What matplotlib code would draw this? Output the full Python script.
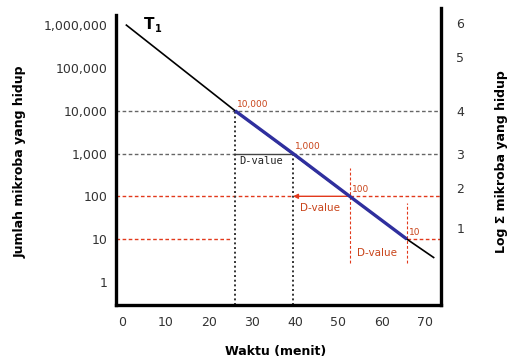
import matplotlib
matplotlib.use("Agg")
import matplotlib.pyplot as plt
import numpy as np

# --- data ---
t1_times = [1, 26.1, 65.8, 72]            # black T1 survival line (menit)
t1_counts = [1e6, 1e4, 10, 10 ** 0.57]    # surviving microbes
d_times = [26.1, 39.5, 52.6, 65.8]        # points one D-value apart
d_counts = [10000, 1000, 100, 10]
d_labels = ["10,000", "1,000", "100", "10"]

x_ticks = [0, 10, 20, 30, 40, 50, 60, 70]
y_ticks = [1, 10, 100, 1000, 10000, 100000, 1000000]
y_ticklabels = ["1", "10", "100", "1,000", "10,000", "100,000", "1,000,000"]
log_tick_pos = [6.05, 5.25, 4.0, 3.0, 2.2, 1.25]   # right axis, as drawn
log_tick_labels = ["6", "5", "4", "3", "2", "1"]

RED = "#e2391c"
RED_TXT = "#c9441a"
BLUE = "#2f2f9e"
GREY = "#666666"

fig = plt.figure(figsize=(5.09, 3.64), dpi=100)
ax = fig.add_axes([116 / 509, 1 - 305 / 364, (441 - 116) / 509, (305 - 8) / 364])

xmin, xmax = -1.4, 73.7
ymin, ymax = 10 ** -0.54, 10 ** 6.40
ax.set_yscale("log")
ax.set_xlim(xmin, xmax)
ax.set_ylim(ymin, ymax)

# spines
ax.spines["top"].set_visible(False)
for s in ["left", "bottom", "right"]:
    ax.spines[s].set_linewidth(2.4)
    ax.spines[s].set_color("black")
ax.spines["left"].set_bounds(ymin, 10 ** 6.23)

ax.set_xticks(x_ticks)
ax.set_xticklabels([str(v) for v in x_ticks])
ax.set_yticks(y_ticks)
ax.set_yticklabels(y_ticklabels)
ax.minorticks_off()
ax.tick_params(axis="both", length=0, labelsize=9, colors="#333333")
ax.tick_params(axis="y", pad=6)
ax.tick_params(axis="x", pad=8)

# right log axis
ax2 = ax.twinx()
ax2.set_ylim(np.log10(ymin), np.log10(ymax))
ax2.set_yticks(log_tick_pos)
ax2.set_yticklabels(log_tick_labels)
ax2.tick_params(axis="y", length=0, labelsize=9, pad=11, colors="#333333")
for s in ax2.spines.values():
    s.set_visible(False)

dash = dict(linestyle=(0, (2.6, 1.8)), linewidth=1.0)
dot = dict(linestyle=(0, (1.0, 1.4)), linewidth=1.4, color="#333333")

# guide lines at 10,000 and 1,000 (grey)
ax.plot([xmin, xmax], [d_counts[0]] * 2, color=GREY, **dash, zorder=1)
ax.plot([xmin, d_times[0]], [d_counts[1]] * 2, color=GREY, **dash, zorder=1)
ax.plot([d_times[1], xmax], [d_counts[1]] * 2, color=GREY, **dash, zorder=1)
ax.plot([d_times[0], d_times[1]], [d_counts[1]] * 2, color="#444444", lw=1.0, zorder=1)

# guide lines at 100 and 10 (red)
ax.plot([xmin, d_times[1]], [d_counts[2]] * 2, color=RED, **dash, zorder=1)
ax.plot([d_times[2], xmax], [d_counts[2]] * 2, color=RED, **dash, zorder=1)
ax.annotate("", xy=(d_times[1], d_counts[2]), xytext=(d_times[2], d_counts[2]),
            arrowprops=dict(arrowstyle="-|>", color=RED, lw=1.0,
                            mutation_scale=7, shrinkA=0, shrinkB=0), zorder=1)
ax.plot([xmin, d_times[0] - 0.6], [d_counts[3]] * 2, color=RED, **dash, zorder=1)
ax.plot([d_times[3], xmax], [d_counts[3]] * 2, color=RED, **dash, zorder=1)

# vertical drops
ax.plot([d_times[0]] * 2, [ymin, d_counts[0]], **dot, zorder=1)
ax.plot([d_times[1]] * 2, [ymin, d_counts[1]], **dot, zorder=1)
ax.plot([d_times[2]] * 2, [10 ** 0.44, 10 ** 2.66], color=RED, linestyle=(0, (2.6, 1.8)),
        linewidth=0.8, zorder=1)
ax.plot([d_times[3]] * 2, [10 ** 0.44, 10 ** 1.84], color=RED, linestyle=(0, (2.6, 1.8)),
        linewidth=0.8, zorder=1)

# survival curve
ax.plot(t1_times, t1_counts, color="black", lw=1.2, zorder=3)
ax.plot(d_times, d_counts, color=BLUE, lw=2.4, solid_capstyle="butt", zorder=4)
ax.text(5.0, 10 ** 6.02, "T", fontsize=11, fontweight="bold", ha="left",
        va="center", zorder=5)
ax.text(7.6, 10 ** 5.9, "1", fontsize=7, fontweight="bold", ha="left",
        va="center", zorder=5)

# point labels
for t, c, lab in zip(d_times, d_counts, d_labels):
    ax.text(t + 0.5, c * 1.12, lab, color=RED_TXT, fontsize=6.5, ha="left",
            va="bottom", zorder=5)

# D-value labels
ax.text(27.0, 10 ** 2.82, "D-value", fontsize=7.5, family="DejaVu Sans Mono",
        color="#222222", ha="left", va="center", zorder=5)
ax.text(41.2, 10 ** 1.72, "D-value", fontsize=7.5, color=RED_TXT,
        ha="left", va="center", zorder=5)
ax.text(54.3, 10 ** 0.68, "D-value", fontsize=7.5, color=RED_TXT,
        ha="left", va="center", zorder=5)

fig.text(20 / 509, 1 - 162 / 364, "Jumlah mikroba yang hidup", rotation=90,
         fontsize=9, fontweight="bold", ha="center", va="center")
fig.text(502 / 509, 1 - 162 / 364, "Log Σ mikroba yang hidup", rotation=90,
         fontsize=9, fontweight="bold", ha="center", va="center")
fig.text(276 / 509, 1 - 352 / 364, "Waktu (menit)", fontsize=9,
         fontweight="bold", ha="center", va="center")

fig.savefig("out.png", dpi=100)
